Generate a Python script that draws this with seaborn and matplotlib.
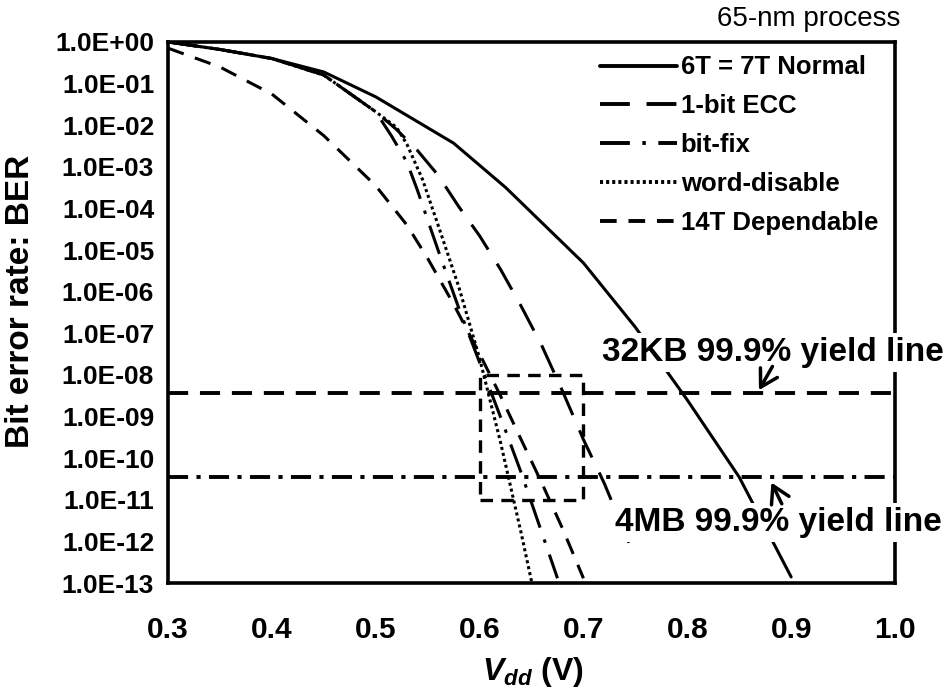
import matplotlib
matplotlib.use("Agg")
import matplotlib.pyplot as plt
import seaborn as sns
from matplotlib.patches import Rectangle
from matplotlib.ticker import FixedLocator, FuncFormatter, NullLocator

# values (Vdd in V, BER)
vdd_normal = [0.30, 0.35, 0.40, 0.45, 0.50, 0.575, 0.625, 0.70, 0.75, 0.80, 0.85, 0.90]
ber_normal = [1.0, 0.66, 0.40, 0.19, 0.048, 3.7e-3, 3.2e-4, 4.9e-6, 1.4e-7, 2.5e-9, 3.5e-11, 1.4e-13]

vdd_ecc = [0.30, 0.35, 0.40, 0.45, 0.50, 0.52, 0.54, 0.56, 0.58, 0.60, 0.62, 0.64, 0.66, 0.68, 0.70, 0.72, 0.75]
ber_ecc = [1.0, 0.66, 0.40, 0.16, 0.021, 7.9e-3, 2.5e-3, 6.3e-4, 1.1e-4, 2.2e-5, 3.5e-6, 4.5e-7,
           5.0e-8, 4.0e-9, 2.8e-10, 2.5e-11, 4.0e-13]

vdd_bitfix = [0.30, 0.35, 0.40, 0.45, 0.50, 0.515, 0.53, 0.54, 0.56, 0.58, 0.60, 0.62, 0.64, 0.66, 0.675]
ber_bitfix = [1.0, 0.66, 0.40, 0.16, 0.021, 5.6e-3, 1.3e-3, 2.8e-4, 1.0e-5, 4.0e-7, 2.0e-8, 1.0e-9,
              4.5e-11, 1.6e-12, 1.3e-13]

vdd_word = [0.30, 0.35, 0.40, 0.45, 0.50, 0.52, 0.53, 0.545, 0.56, 0.58, 0.60, 0.62, 0.64, 0.65]
ber_word = [1.0, 0.66, 0.40, 0.16, 0.021, 8.9e-3, 3.5e-3, 5.0e-4, 4.0e-5, 1.3e-6, 2.5e-8, 2.5e-10,
            1.6e-12, 1.1e-13]

vdd_14t = [0.30, 0.35, 0.40, 0.45, 0.50, 0.53, 0.55, 0.575, 0.60, 0.62, 0.64, 0.66, 0.68, 0.70]
ber_14t = [0.71, 0.25, 0.056, 5.6e-3, 3.5e-4, 4.0e-5, 6.3e-6, 5.0e-7, 3.2e-8, 3.2e-9, 2.8e-10,
           2.5e-11, 2.0e-12, 1.3e-13]

yield_32kb = 3.6e-9
yield_4mb = 3.5e-11
box_vdd = (0.6, 0.7)
box_ber = (1e-11, 1e-8)

xticks = [0.3, 0.4, 0.5, 0.6, 0.7, 0.8, 0.9, 1.0]
yticks = [1e0, 1e-1, 1e-2, 1e-3, 1e-4, 1e-5, 1e-6, 1e-7, 1e-8, 1e-9, 1e-10, 1e-11, 1e-12, 1e-13]

sns.set_style("white")
plt.rcParams['font.family'] = ['Liberation Sans', 'DejaVu Sans']
plt.rcParams['mathtext.fontset'] = 'custom'
plt.rcParams['mathtext.it'] = 'Liberation Sans:italic:bold'
plt.rcParams['mathtext.rm'] = 'Liberation Sans:bold'
plt.rcParams['lines.scale_dashes'] = False
for key in ['text.color', 'axes.labelcolor', 'xtick.color', 'ytick.color', 'axes.edgecolor']:
    plt.rcParams[key] = 'black'

fig = plt.figure(figsize=(9.51, 6.88), dpi=100)
ax = fig.add_axes([0.1767, 0.1526, 0.7644, 0.7864])

series = [
    (vdd_normal, ber_normal, "6T = 7T Normal", "-"),
    (vdd_ecc, ber_ecc, "1-bit ECC", (0, (21.5, 12))),
    (vdd_bitfix, ber_bitfix, "bit-fix", (0, (21.5, 9, 2.5, 9))),
    (vdd_word, ber_word, "word-disable", (0, (2.2, 2.2))),
    (vdd_14t, ber_14t, "14T Dependable", (0, (12, 8.5))),
]
for x, y, lab, ls in series:
    sns.lineplot(x=x, y=y, ax=ax, color="black", lw=2.2, ls=ls, label=lab)

ax.axhline(yield_32kb, color="black", lw=2.8, ls=(0, (14.5, 8.5)))
ax.axhline(yield_4mb, color="black", lw=2.8, ls=(0, (14.5, 6, 3, 6)))
ax.add_patch(Rectangle((box_vdd[0], box_ber[0]), box_vdd[1] - box_vdd[0], box_ber[1] - box_ber[0],
                       fill=False, ec="black", lw=2.4, ls=(0, (9, 6))))

ax.set_yscale("log")
ax.set_xlim(0.3, 1.0)
ax.set_ylim(1e-13, 1.0)
ax.xaxis.set_major_locator(FixedLocator(xticks))
ax.xaxis.set_major_formatter(FuncFormatter(lambda v, p: f"{v:.1f}"))
ax.yaxis.set_major_locator(FixedLocator(yticks))
ax.yaxis.set_minor_locator(NullLocator())
ax.yaxis.set_major_formatter(FuncFormatter(lambda v, p: f"{v:.1E}"))
ax.tick_params(axis="x", direction="in", length=7, width=2, pad=24, labelsize=21.5)
ax.tick_params(axis="y", direction="in", length=7, width=2, pad=10, labelsize=19)
for lbl in ax.get_xticklabels() + ax.get_yticklabels():
    lbl.set_fontweight("bold")
for sp in ax.spines.values():
    sp.set_linewidth(2.6)

ax.set_xlabel(r"$V_{dd}$ (V)", fontsize=23, fontweight="bold")
ax.xaxis.set_label_coords(0.502, -0.133)
ax.set_ylabel("Bit error rate: BER", fontsize=24, fontweight="bold")
ax.yaxis.set_label_coords(-0.181, 0.52)

leg = ax.legend(loc="upper left", bbox_to_anchor=(0.594, 0.975), frameon=False,
                borderaxespad=0, borderpad=0, handlelength=3.0, handletextpad=0.15,
                labelspacing=0.58, prop={"size": 18.5, "weight": "bold"})
for h in leg.get_lines():
    h.set_linewidth(2.8)

box = dict(fc="white", ec="none", pad=3)
ax.text(0.718, 3.5e-8, "32KB 99.9% yield line", fontsize=24, fontweight="bold",
        ha="left", va="center", bbox=box, zorder=6, clip_on=False)
ax.text(0.730, 2.9e-12, "4MB 99.9% yield line", fontsize=24, fontweight="bold",
        ha="left", va="center", bbox=box, zorder=6, clip_on=False)
arrow = dict(arrowstyle="->,head_length=0.6,head_width=0.35", lw=2.5, color="black",
             mutation_scale=20, shrinkA=0, shrinkB=0)
ax.annotate("", xy=(0.869, 4.3e-9), xytext=(0.882, 1.6e-8), arrowprops=arrow, zorder=7)
ax.annotate("", xy=(0.881, 2.6e-11), xytext=(0.891, 8.0e-12), arrowprops=arrow, zorder=7)

fig.text(0.947, 0.973, "65-nm process", fontsize=20, ha="right", va="center")

fig.savefig("out.png", dpi=100)
